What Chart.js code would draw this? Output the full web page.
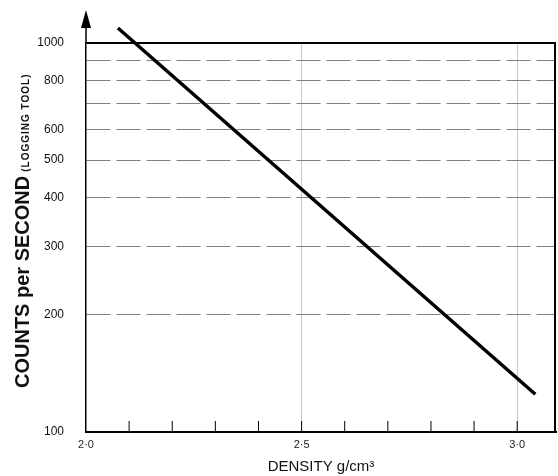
<!DOCTYPE html>
<html>
<head>
<meta charset="utf-8">
<script src="https://cdn.jsdelivr.net/npm/chart.js@4"></script>
<style>
html, body { margin: 0; padding: 0; background: #fff; }
#wrap { width: 558px; height: 476px; }
</style>
</head>
<body>
<div id="wrap"><canvas id="chart"></canvas></div>
<script>
// 密度とカウントの関係（片対数）
const densityPoints = [2.074, 3.042];
const countPoints = [1093, 125];
const densityTicks = [2.0, 2.5, 3.0];
const densityMinorTicks = [2.1, 2.2, 2.3, 2.4, 2.5, 2.6, 2.7, 2.8, 2.9, 3.0];
const countGrid = [100, 200, 300, 400, 500, 600, 700, 800, 900, 1000];
const countLabels = [100, 200, 300, 400, 500, 600, 800, 1000];
const yTitleMain = 'COUNTS per SECOND';
const yTitleSub = '(LOGGING TOOL)';

// 枠・内向き目盛・矢印・縦軸タイトル
const frameDecor = {
    id: 'frameDecor',
    afterDraw(chart) {
        const { ctx, chartArea: a, scales } = chart;
        const x = scales.x;
        ctx.save();
        ctx.strokeStyle = '#000';
        ctx.fillStyle = '#000';

        // 右枠
        ctx.lineWidth = 2;
        ctx.beginPath();
        ctx.moveTo(a.right - 1, a.top);
        ctx.lineTo(a.right - 1, a.bottom);
        ctx.stroke();

        // x 軸の内向き目盛
        ctx.lineWidth = 1;
        densityMinorTicks.forEach((v) => {
            const px = x.getPixelForValue(v);
            ctx.beginPath();
            ctx.moveTo(px, a.bottom);
            ctx.lineTo(px, a.bottom - 11);
            ctx.stroke();
        });

        // y 軸の延長と矢印
        ctx.lineWidth = 1.5;
        ctx.beginPath();
        ctx.moveTo(a.left, a.top);
        ctx.lineTo(a.left, a.top - 16);
        ctx.stroke();
        ctx.beginPath();
        ctx.moveTo(a.left, a.top - 33);
        ctx.lineTo(a.left - 5, a.top - 15);
        ctx.lineTo(a.left + 5, a.top - 15);
        ctx.closePath();
        ctx.fill();

        // 縦軸タイトル（大小混在なので手描き）
        ctx.translate(29, 388);
        ctx.rotate(-Math.PI / 2);
        ctx.textAlign = 'left';
        ctx.textBaseline = 'alphabetic';
        ctx.fillStyle = '#111';
        ctx.font = 'bold 20px "Liberation Sans"';
        ctx.fillText(yTitleMain, 0, 0);
        const w = ctx.measureText(yTitleMain).width;
        ctx.font = 'bold 10px "Liberation Sans"';
        ctx.letterSpacing = '1px';
        ctx.fillText(yTitleSub, w + 4, 0);
        ctx.restore();
    },
};

const ctx = document.getElementById('chart').getContext('2d');
new Chart(ctx, {
    type: 'line',
    data: {
        datasets: [
            {
                data: densityPoints.map((d, i) => ({ x: d, y: countPoints[i] })),
                borderColor: '#000',
                borderWidth: 3.5,
                pointRadius: 0,
                tension: 0,
                clip: false,
            },
        ],
    },
    options: {
        responsive: true,
        maintainAspectRatio: false,
        animation: false,
        layout: { padding: { top: 43, right: 2, left: 0, bottom: 0 } },
        plugins: {
            legend: { display: false },
            tooltip: { enabled: false },
        },
        scales: {
            x: {
                type: 'linear',
                min: 2.0,
                max: 3.09,
                afterBuildTicks: (s) => {
                    s.ticks = densityTicks.map((v) => ({ value: v }));
                },
                afterFit: (s) => {
                    s.height = 44;
                },
                ticks: {
                    callback: (v) => v.toFixed(1).replace('.', '·'),
                    font: { family: 'Liberation Sans', size: 11 },
                    color: '#222',
                    padding: 6,
                    maxRotation: 0,
                    autoSkip: false,
                },
                grid: {
                    drawTicks: false,
                    color: (c) => (c.tick && c.tick.value > 2.0 ? '#c8c8c8' : 'rgba(0,0,0,0)'),
                    lineWidth: 1,
                },
                border: { color: '#000', width: 2 },
                title: {
                    display: true,
                    text: 'DENSITY g/cm³',
                    font: { family: 'Liberation Sans', size: 15 },
                    color: '#111',
                    padding: { top: 0, bottom: 0 },
                },
            },
            y: {
                type: 'logarithmic',
                min: 100,
                max: 1000,
                afterBuildTicks: (s) => {
                    s.ticks = countGrid.map((v) => ({ value: v }));
                },
                afterFit: (s) => {
                    s.width = 86;
                },
                ticks: {
                    callback: (v) => (countLabels.includes(v) ? String(v) : ''),
                    font: { family: 'Liberation Sans', size: 12 },
                    color: '#111',
                    padding: 22,
                    autoSkip: false,
                },
                grid: {
                    drawTicks: false,
                    color: (c) => (c.tick && c.tick.value === 1000 ? '#000' : '#808080'),
                    lineWidth: (c) => (c.tick && c.tick.value === 1000 ? 2 : 1),
                },
                border: {
                    color: '#000',
                    width: 1.5,
                    dash: (c) => (c.tick && c.tick.value !== 1000 && c.tick.value !== 100 ? [24, 6] : []),
                },
            },
        },
    },
    plugins: [frameDecor],
});
</script>
</body>
</html>
